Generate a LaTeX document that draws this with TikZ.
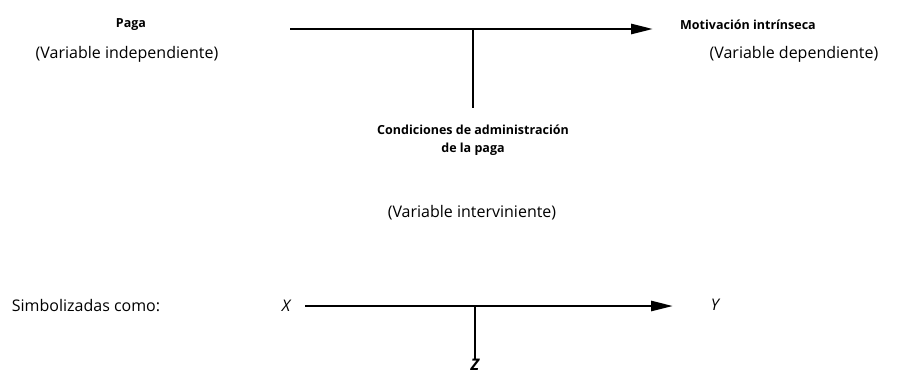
\documentclass[tikz,border=0pt]{standalone}
\usepackage{fontspec}
\setmainfont{Open Sans}
\usetikzlibrary{arrows.meta}

\tikzset{
    varname/.style={font=\fontsize{12.5}{14}\selectfont\bfseries, inner sep=0pt},
    vartype/.style={font=\fontsize{16}{18}\selectfont, inner sep=0pt},
    link/.style={line width=2.6pt, -{Triangle[length=22pt, width=10pt]}},
    stem/.style={line width=2.6pt}
}

\begin{document}
\begin{tikzpicture}[x=1pt, y=-1pt]
    \useasboundingbox (0,0) rectangle (904,380);
    % Variables
    \node[varname] (paga) at (131,25) {Paga};
    \node[vartype] (pagavar) at (127,54) {(Variable independiente)};
    \node[varname] (motiv) at (748,25) {Motivación intrínseca};
    \node[vartype] (motivvar) at (794,54) {(Variable dependiente)};
    \node[varname, align=center] (cond) at (473,140) {Condiciones de administración\\[4pt]de la paga};
    \node[vartype] (condvar) at (472,213) {(Variable interviniente)};
    % Arrow with intervening stem
    \coordinate (top1) at (290,29);
    \coordinate (top2) at (653,29);
    \coordinate (topj) at (473,29);
    \coordinate (tope) at (473,108);
    \draw[link] (top1) -- (top2);
    \draw[stem] (topj) -- (tope);
    % Symbols
    \node[vartype] (simb) at (86,306) {Simbolizadas como:};
    \node[vartype, font=\fontsize{16}{18}\selectfont\itshape] (x) at (286,306) {X};
    \node[vartype, font=\fontsize{16}{18}\selectfont\itshape] (y) at (715,305) {Y};
    \node[vartype, font=\fontsize{16}{18}\selectfont\bfseries\itshape] (z) at (475,365) {Z};
    \coordinate (bot1) at (305,306);
    \coordinate (bot2) at (673,306);
    \coordinate (botj) at (475,306);
    \draw[link] (bot1) -- (bot2);
    \draw[stem] (botj) -- (z.north);
\end{tikzpicture}
\end{document}
